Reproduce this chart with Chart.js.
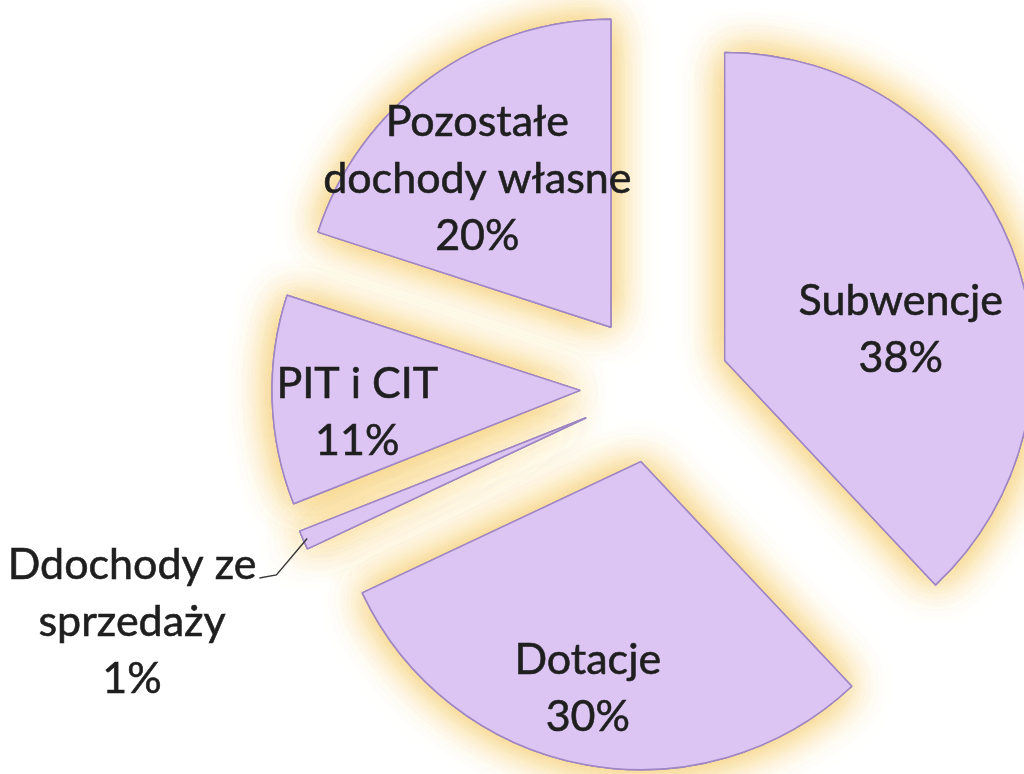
<!DOCTYPE html>
<html>
<head>
<meta charset="utf-8">
<script src="https://cdn.jsdelivr.net/npm/chart.js@4.4.1/dist/chart.umd.min.js"></script>
<style>
  html, body { margin: 0; padding: 0; background: #ffffff; }
  #wrap { width: 1024px; height: 774px; position: relative; overflow: hidden; }
</style>
</head>
<body>
<div id="wrap"><canvas id="budgetChart" width="1024" height="774"></canvas></div>
<script>
// categories (clockwise from 12 o'clock) and their share of income, in %
const categories = [
  ['Subwencje'],
  ['Dotacje'],
  ['Ddochody ze', 'sprzedaży'],
  ['PIT i CIT'],
  ['Pozostałe', 'dochody własne']
];
const shares = [38, 30, 1, 11, 20];
const shareLabels = ['38%', '30%', '1%', '11%', '20%'];

// pulls every slice out from the centre and paints the yellow glow under it
const explodePlugin = {
  id: 'explode',
  beforeDatasetDraw(chart, args, opts) {
    const ctx = chart.ctx;
    const arcs = args.meta.data;
    const shift = arc => {
      const mid = (arc.startAngle + arc.endAngle) / 2;
      ctx.translate(Math.cos(mid) * opts.distance, Math.sin(mid) * opts.distance);
    };
    // glow
    for (let pass = 0; pass < 2; pass++) {
      arcs.forEach(arc => {
        ctx.save();
        shift(arc);
        ctx.shadowColor = opts.glow;
        ctx.shadowBlur = opts.blur;
        arc.draw(ctx);
        ctx.restore();
      });
    }
    // slices
    arcs.forEach(arc => {
      ctx.save();
      shift(arc);
      arc.draw(ctx);
      ctx.restore();
    });
    return false;
  }
};

// category + percentage written on (or next to) each slice
const sliceLabels = {
  id: 'sliceLabels',
  afterDatasetsDraw(chart, args, opts) {
    const ctx = chart.ctx;
    const arcs = chart.getDatasetMeta(0).data;
    const dist = chart.options.plugins.explode.distance;
    ctx.save();
    ctx.font = opts.font;
    ctx.fillStyle = opts.color;
    ctx.strokeStyle = opts.color;
    ctx.lineWidth = 0.6;
    ctx.textAlign = 'center';
    ctx.textBaseline = 'middle';
    arcs.forEach((arc, i) => {
      const mid = (arc.startAngle + arc.endAngle) / 2;
      const [rf, da] = opts.place[i];
      const a = mid + da * Math.PI / 180;
      const cx = arc.x + Math.cos(a) * arc.outerRadius * rf;
      const cy = arc.y + Math.sin(a) * arc.outerRadius * rf;
      const lines = chart.data.labels[i].concat(shareLabels[i]);
      const top = cy - (lines.length - 1) * opts.lineHeight / 2;
      lines.forEach((t, k) => {
        ctx.fillText(t, cx, top + k * opts.lineHeight);
        ctx.strokeText(t, cx, top + k * opts.lineHeight);
      });

      if (opts.leader[i]) {
        // leader line from the end of the first text line to the slice tip
        const w = ctx.measureText(lines[0]).width;
        const sx = cx + w / 2 + 3, sy = top + 13;
        const reach = arc.outerRadius + dist - 4;
        const tx = arc.x + Math.cos(mid) * reach;
        const ty = arc.y + Math.sin(mid) * reach;
        ctx.save();
        ctx.beginPath();
        ctx.moveTo(sx, sy);
        ctx.lineTo(sx + 17, sy - 3);
        ctx.lineTo(tx, ty);
        ctx.strokeStyle = '#3a3a3a';
        ctx.lineWidth = 1.5;
        ctx.stroke();
        ctx.restore();
      }
    });
    ctx.restore();
  }
};

const ctx = document.getElementById('budgetChart');
new Chart(ctx, {
  type: 'pie',
  data: {
    labels: categories,
    datasets: [{
      data: shares,
      backgroundColor: '#dcc5f2',
      borderColor: '#9f86c4',
      borderWidth: 1.5,
      clip: false
    }]
  },
  options: {
    responsive: false,
    animation: false,
    radius: 308,
    layout: { padding: { left: 286, top: 2, right: 0, bottom: 0 } },
    plugins: {
      legend: { display: false },
      tooltip: { enabled: false },
      explode: { distance: 75, glow: 'rgba(247, 208, 118, 0.9)', blur: 40 },
      sliceLabels: {
        font: '43px Lato, "Open Sans", sans-serif',
        color: '#1f1f1f',
        lineHeight: 57,
        place: [[0.82, 8.3], [1.0, 1.8], [1.86, -0.7], [0.97, -3.0], [0.89, -4.4]],
        leader: [false, false, true, false, false]
      }
    }
  },
  plugins: [explodePlugin, sliceLabels]
});
</script>
</body>
</html>
